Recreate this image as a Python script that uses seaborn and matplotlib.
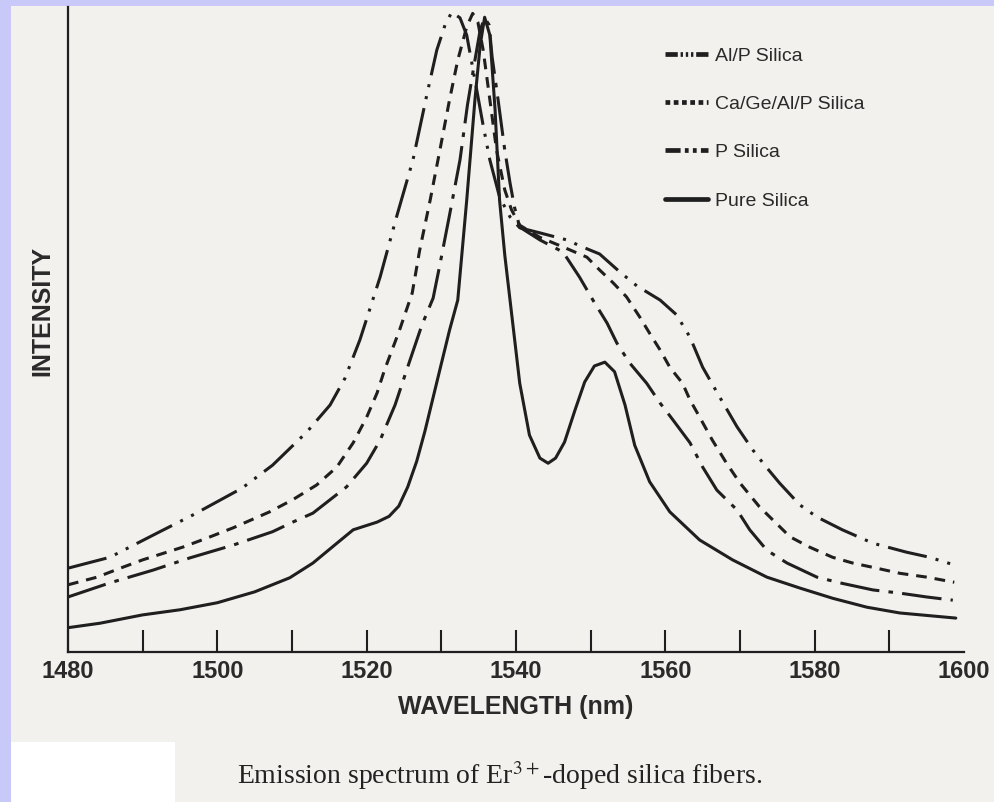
import numpy as np
import pandas as pd
import matplotlib
matplotlib.use("Agg")
import matplotlib.pyplot as plt
import seaborn as sns
from matplotlib.lines import Line2D
from matplotlib.patches import Rectangle

# ---------------- data ----------------
series_names = ["Al/P Silica", "Ca/Ge/Al/P Silica", "P Silica", "Pure Silica"]

pure_wl = [1480.0, 1484.3, 1490.0, 1495.0, 1500.0, 1505.0, 1509.7, 1512.8, 1515.7, 1518.2,
           1521.4, 1523.0, 1524.3, 1525.5, 1526.7, 1527.8, 1529.8, 1531.1, 1532.2, 1533.4,
           1534.5, 1535.2, 1535.8, 1536.5, 1537.2, 1537.8, 1538.5, 1539.2, 1540.5, 1541.8,
           1543.2, 1544.3, 1545.3, 1546.5, 1547.9, 1549.2, 1550.5, 1551.9, 1553.2, 1554.6,
           1555.9, 1557.9, 1560.6, 1564.6, 1569.0, 1573.6, 1578.0, 1582.4, 1587.0, 1591.4,
           1598.9]
pure_int = [0.038, 0.045, 0.058, 0.066, 0.077, 0.094, 0.116, 0.139, 0.167, 0.191,
            0.203, 0.212, 0.228, 0.258, 0.298, 0.345, 0.441, 0.503, 0.550, 0.706,
            0.863, 0.948, 0.992, 0.964, 0.847, 0.706, 0.620, 0.550, 0.420, 0.339,
            0.303, 0.295, 0.303, 0.328, 0.378, 0.422, 0.447, 0.453, 0.438, 0.386,
            0.323, 0.266, 0.219, 0.175, 0.144, 0.117, 0.100, 0.084, 0.070, 0.061,
            0.053]

alp_wl = [1480.0, 1485.6, 1492.3, 1496.7, 1503.3, 1507.4, 1512.0, 1515.1, 1517.1, 1519.1,
          1521.8, 1524.0, 1526.2, 1528.1, 1529.4, 1530.5, 1531.4, 1532.5, 1533.4, 1534.5,
          1535.6, 1536.5, 1537.8, 1539.2, 1540.5, 1543.2, 1546.8, 1548.9, 1551.2, 1553.9,
          1556.2, 1559.3, 1561.5, 1563.3, 1565.0, 1567.3, 1569.6, 1571.7, 1573.3, 1575.3,
          1578.0, 1580.3, 1583.7, 1587.8, 1592.3, 1595.4, 1598.7]
alp_int = [0.131, 0.148, 0.188, 0.214, 0.256, 0.292, 0.344, 0.386, 0.428, 0.488,
           0.586, 0.680, 0.769, 0.873, 0.941, 0.980, 1.000, 0.991, 0.964, 0.894,
           0.823, 0.769, 0.711, 0.680, 0.663, 0.655, 0.644, 0.633, 0.622, 0.594,
           0.572, 0.550, 0.527, 0.492, 0.445, 0.398, 0.352, 0.316, 0.292, 0.264,
           0.230, 0.211, 0.191, 0.170, 0.156, 0.148, 0.136]

cage_wl = [1480.0, 1483.9, 1487.0, 1490.0, 1495.4, 1498.6, 1502.1, 1507.0, 1510.1, 1513.3,
           1516.0, 1518.2, 1520.0, 1521.4, 1522.4, 1524.4, 1526.1, 1527.1, 1528.5, 1529.8,
           1531.1, 1532.2, 1533.4, 1534.2, 1534.9, 1535.6, 1536.5, 1537.4, 1538.5, 1539.4,
           1540.5, 1543.2, 1546.3, 1549.5, 1551.2, 1553.0, 1554.8, 1556.6, 1557.9, 1559.3,
           1560.6, 1562.3, 1563.3, 1564.6, 1566.3, 1568.2, 1570.0, 1572.6, 1576.7, 1579.3,
           1582.4, 1585.1, 1588.3, 1591.4, 1595.0, 1598.7]
cage_int = [0.105, 0.117, 0.131, 0.144, 0.164, 0.178, 0.194, 0.219, 0.238, 0.261,
            0.289, 0.327, 0.367, 0.405, 0.441, 0.503, 0.561, 0.628, 0.706, 0.784,
            0.863, 0.925, 0.977, 0.998, 0.984, 0.941, 0.863, 0.784, 0.722, 0.691,
            0.667, 0.648, 0.633, 0.617, 0.597, 0.577, 0.555, 0.523, 0.498, 0.472,
            0.445, 0.420, 0.394, 0.367, 0.331, 0.295, 0.264, 0.227, 0.180, 0.164,
            0.148, 0.139, 0.131, 0.123, 0.117, 0.109]

p_wl = [1480.0, 1485.6, 1491.4, 1496.3, 1502.1, 1507.4, 1510.1, 1512.8, 1517.3, 1520.0,
        1521.8, 1523.8, 1525.8, 1527.4, 1528.9, 1529.8, 1531.1, 1532.5, 1533.5, 1534.5,
        1535.2, 1535.8, 1536.4, 1536.8, 1537.6, 1538.5, 1539.2, 1539.8, 1540.5, 1543.2,
        1546.3, 1548.5, 1550.3, 1552.2, 1553.5, 1555.2, 1557.5, 1559.3, 1561.0, 1563.3,
        1565.0, 1566.9, 1569.6, 1571.3, 1573.6, 1576.3, 1580.3, 1583.4, 1587.8, 1591.4,
        1595.0, 1598.5]
p_int = [0.086, 0.108, 0.128, 0.147, 0.167, 0.188, 0.203, 0.217, 0.258, 0.295,
         0.331, 0.386, 0.456, 0.511, 0.553, 0.605, 0.683, 0.769, 0.855, 0.925,
         0.972, 0.991, 0.980, 0.930, 0.863, 0.784, 0.733, 0.695, 0.664, 0.644,
         0.625, 0.586, 0.550, 0.514, 0.483, 0.452, 0.420, 0.389, 0.363, 0.327,
         0.289, 0.253, 0.222, 0.191, 0.159, 0.139, 0.117, 0.108, 0.097, 0.092,
         0.086, 0.081]

tick_values = [1480, 1500, 1520, 1540, 1560, 1580, 1600]
tick_labels = ["1480", "1500", "1520", "1540", "1560", "1580", "1600"]
minor_tick_values = [1490, 1510, 1530, 1550, 1570, 1590]

# ---------------- style ----------------
sns.set_theme(style="white")
plt.rcParams['font.family'] = ['Liberation Sans', 'DejaVu Sans']
plt.rcParams['mathtext.fontset'] = 'stix'

PAPER = '#f3f1ee'
INK = '#1f1f1f'
LAVENDER = '#c8c8f9'

fig = plt.figure(figsize=(9.94, 8.02), dpi=100, facecolor=PAPER)
ax = fig.add_axes([68/994, 1-652/802, 896/994, 645/802])
ax.set_facecolor('none')

line_styles = {
    "Al/P Silica": (0, (13, 3, 1, 3, 1, 3)),
    "Ca/Ge/Al/P Silica": (0, (3.5, 2.6)),
    "P Silica": (0, (13, 3, 1.5, 3)),
    "Pure Silica": '-',
}
data = {
    "Al/P Silica": (alp_wl, alp_int),
    "Ca/Ge/Al/P Silica": (cage_wl, cage_int),
    "P Silica": (p_wl, p_int),
    "Pure Silica": (pure_wl, pure_int),
}
for name in series_names:
    wl, it = data[name]
    df = pd.DataFrame({"wavelength": wl, "intensity": it})
    sns.lineplot(data=df, x="wavelength", y="intensity", ax=ax, color=INK,
                 linewidth=2.2, linestyle=line_styles[name], estimator=None,
                 sort=False, legend=False)

ax.set_xlim(1480, 1600)
ax.set_ylim(0, 1.008)
ax.set_yticks([])
ax.set_xticks(tick_values)
ax.set_xticklabels(tick_labels)
ax.set_xticks(minor_tick_values, minor=True)
ax.tick_params(axis='x', which='both', direction='in', length=16, width=1.5,
               color=INK, bottom=True)
ax.tick_params(axis='x', which='major', labelsize=17, pad=6, labelcolor='#2a2a2a')
for lab in ax.get_xticklabels():
    lab.set_fontweight('bold')
ax.xaxis.get_major_ticks()[-1].tick1line.set_visible(False)

for s in ['top', 'right']:
    ax.spines[s].set_visible(False)
for s in ['left', 'bottom']:
    ax.spines[s].set_color(INK)
    ax.spines[s].set_linewidth(1.6)

ax.set_xlabel("WAVELENGTH (nm)", fontsize=18, fontweight='bold', color='#2a2a2a')
ax.xaxis.set_label_coords(0.5, (652-695)/645)
ax.set_ylabel("INTENSITY", fontsize=18, fontweight='bold', color='#2a2a2a')
ax.yaxis.set_label_coords((54-68)/896, (652-311)/645)

# legend
handles = [
    Line2D([], [], color=INK, lw=3.4, linestyle=(0, (2.6, 0.6, 0.5, 0.6, 0.5, 0.6, 0.5, 0.6))),
    Line2D([], [], color=INK, lw=3.4, linestyle=(0, (1.0, 0.75))),
    Line2D([], [], color=INK, lw=3.4, linestyle=(0, (3.2, 0.9, 0.8, 0.9, 0.8, 0.9))),
    Line2D([], [], color=INK, lw=3.4, linestyle='-'),
]
leg = ax.legend(handles=handles, labels=series_names, loc='upper left',
                bbox_to_anchor=(665/994, 1-47/802), bbox_transform=fig.transFigure,
                frameon=False, fontsize=14, handlelength=2.2, handletextpad=0.35,
                labelspacing=1.58, borderpad=0, borderaxespad=0)
for t in leg.get_texts():
    t.set_color('#2a2a2a')

# caption
fig.text(500/994, 1-776/802, "Emission spectrum of Er$^{3+}$-doped silica fibers.",
         family='Liberation Serif', fontsize=20, ha='center', va='center', color='#222222')

# scan frame decorations
fig.patches.append(Rectangle((0, 0), 11/994, 1, transform=fig.transFigure,
                             facecolor=LAVENDER, edgecolor='none', zorder=-1))
fig.patches.append(Rectangle((0, 1-6/802), 1, 6/802, transform=fig.transFigure,
                             facecolor=LAVENDER, edgecolor='none', zorder=-1))
fig.patches.append(Rectangle((11/994, 0), 164/994, 60/802, transform=fig.transFigure,
                             facecolor='white', edgecolor='none', zorder=-1))

fig.savefig("out.png", dpi=100, facecolor=PAPER)
